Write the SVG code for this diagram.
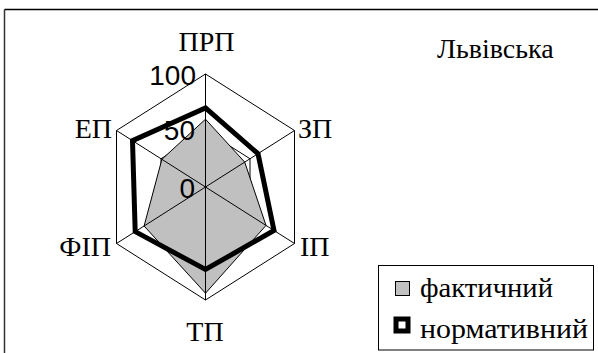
<svg xmlns="http://www.w3.org/2000/svg" width="598" height="353" viewBox="0 0 598 353">
<style>
.grid{fill:none;stroke:#000;stroke-width:1}
</style>
<rect x="0" y="0" width="598" height="353" fill="#fff"/>
<g id="frame">
<line x1="4.5" y1="9.5" x2="598" y2="9.5" stroke="#000" stroke-width="1.5"/>
<line x1="4.5" y1="9.5" x2="4.5" y2="353" stroke="#333" stroke-width="1.5"/>
</g>
<g id="grid-rings">
<polygon class="grid" points="205.5,74 294.5,130.5 294.5,243.5 205.5,300 116.5,243.5 116.5,130.5"/>
<polygon class="grid" points="205.5,130.5 250,158.75 250,215.25 205.5,243.5 161,215.25 161,158.75"/>
</g>
<g id="series-fact">
<polygon points="205.5,119.2 244.7,162.1 266,225.4 205.5,293.2 144.1,226 161.9,159.3" fill="#c0c0c0" stroke="#000" stroke-width="1"/>
</g>
<g id="grid-spokes" stroke="#000" stroke-width="1">
<line x1="205.5" y1="187" x2="205.5" y2="74"/>
<line x1="205.5" y1="187" x2="294.5" y2="130.5"/>
<line x1="205.5" y1="187" x2="294.5" y2="243.5"/>
<line x1="205.5" y1="187" x2="205.5" y2="300"/>
<line x1="205.5" y1="187" x2="116.5" y2="243.5"/>
<line x1="205.5" y1="187" x2="116.5" y2="130.5"/>
</g>
<g id="axis-values">
<text x="196" y="85" font-family="Liberation Sans" font-size="28" text-anchor="end">100</text>
<text x="195" y="140" font-family="Liberation Sans" font-size="28" text-anchor="end">50</text>
<text x="195" y="198" font-family="Liberation Sans" font-size="28" text-anchor="end">0</text>
</g>
<g id="series-norm">
<polygon points="205.5,107.9 258,153.7 274,230.5 205.5,269.5 135.2,231.6 132.5,140.7" fill="none" stroke="#000" stroke-width="5" stroke-linejoin="miter"/>
</g>
<g id="axis-labels">
<text x="206.5" y="51" font-family="Liberation Serif" font-size="28" text-anchor="middle">ПРП</text>
<text x="298" y="138" font-family="Liberation Serif" font-size="28">ЗП</text>
<text x="300" y="256" font-family="Liberation Serif" font-size="28">ІП</text>
<text x="205" y="341" font-family="Liberation Serif" font-size="28" text-anchor="middle">ТП</text>
<text x="111" y="256" font-family="Liberation Serif" font-size="28" text-anchor="end">ФІП</text>
<text x="112" y="138" font-family="Liberation Serif" font-size="28" text-anchor="end">ЕП</text>
</g>
<g id="title">
<text x="437" y="58" font-family="Liberation Serif" font-size="28">Львівська</text>
</g>
<g id="legend">
<rect x="378.5" y="265.5" width="215" height="84.5" fill="#fff" stroke="#000" stroke-width="1"/>
<rect x="395.5" y="281.5" width="14" height="14" fill="#c0c0c0" stroke="#000" stroke-width="1"/>
<text x="420" y="297" font-family="Liberation Serif" font-size="28" textLength="133" lengthAdjust="spacingAndGlyphs">фактичний</text>
<rect x="396" y="319" width="12" height="12" fill="#fff" stroke="#000" stroke-width="5"/>
<text x="420" y="338" font-family="Liberation Serif" font-size="28" textLength="168" lengthAdjust="spacingAndGlyphs">нормативний</text>
</g>
</svg>
